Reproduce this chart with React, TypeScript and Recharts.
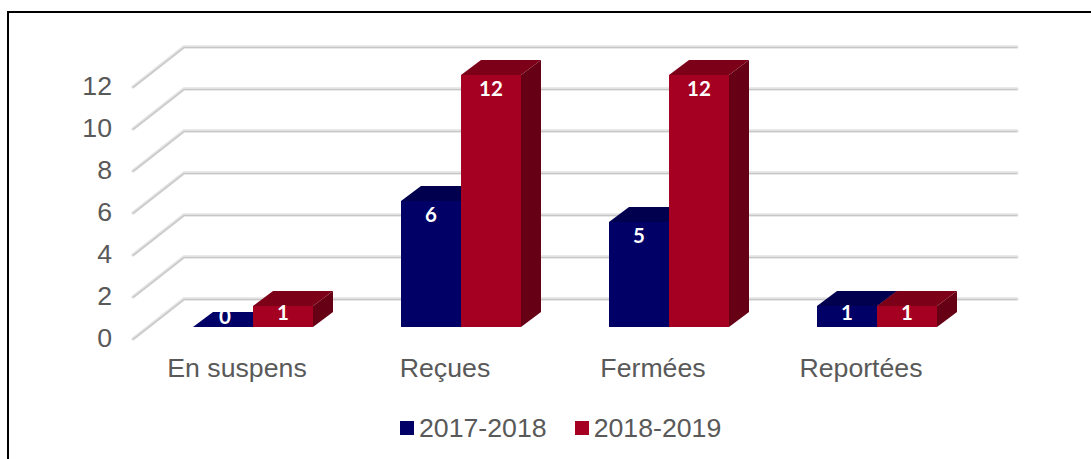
import { Bar, BarChart, CartesianGrid, LabelList, Legend, XAxis, YAxis } from "recharts";

const categories = ["En suspens", "Reçues", "Fermées", "Reportées"];
const values2017 = [0, 6, 5, 1];
const values2018 = [1, 12, 12, 1];
const yTicks = [0, 2, 4, 6, 8, 10, 12];

const chartData = categories.map((name, i) => ({
  name,
  y2017: values2017[i],
  y2018: values2018[i],
}));

const TEXT = "#595959";
const FONT = '"Liberation Sans", Arial, sans-serif';
const FONT_SIZE = 26.7;
// the fake 3D depth of the bars
const DEPTH_X = 20;
const DEPTH_Y = 15;

function bar3d(topFill: string, sideFill: string) {
  return (props: any) => {
    const { x, y, width, height, fill } = props;
    const r = x + width;
    const b = y + height;
    return (
      <g>
        <polygon
          points={`${r},${y} ${r + DEPTH_X},${y - DEPTH_Y} ${r + DEPTH_X},${b - DEPTH_Y} ${r},${b}`}
          fill={sideFill}
        />
        <polygon
          points={`${x},${y} ${x + DEPTH_X},${y - DEPTH_Y} ${r + DEPTH_X},${y - DEPTH_Y} ${r},${y}`}
          fill={height === 0 ? fill : topFill}
        />
        <rect x={x} y={y} width={width} height={height} fill={fill} />
      </g>
    );
  };
}

function wallLine(props: any) {
  const { y1, x1, key } = props;
  const pts = `${x1 - 16},${y1 + 12} ${x1 + 35},${y1 - 28} 1017,${y1 - 28}`;
  return (
    <g key={key}>
      <polyline points={pts} fill="none" stroke="#e2e2e2" strokeWidth={3.4} strokeLinecap="round" />
      <polyline points={pts} fill="none" stroke="#c6c6c6" strokeWidth={1.2} transform="translate(0,0.5)" />
    </g>
  );
}

function YTick({ x, y, payload }: any) {
  return (
    <text x={x - 29} y={y + 20} textAnchor="end" fontSize={FONT_SIZE} fontFamily={FONT} fill={TEXT}>
      {payload.value}
    </text>
  );
}

function XTick({ x, y, payload }: any) {
  return (
    <text x={x - 16} y={y + 42} textAnchor="middle" fontSize={FONT_SIZE} fontFamily={FONT} fill={TEXT}>
      {payload.value}
    </text>
  );
}

function valueLabel(props: any) {
  const { x, y, width, height, value } = props;
  let cy = y + 14;
  if (height === 0) cy = y - 10;
  else if (height < 30) cy = y + 7;
  return (
    <text
      x={x + width / 2 + (height === 0 ? 2 : 0)}
      y={cy}
      dy="0.36em"
      textAnchor="middle"
      fontSize={20.5}
      fontWeight={700}
      fontFamily="Lato, sans-serif"
      fill="#ffffff"
    >
      {value}
    </text>
  );
}

function LegendContent({ payload }: any) {
  return (
    <div style={{ display: "flex", gap: 28, fontFamily: FONT, fontSize: FONT_SIZE, color: TEXT, lineHeight: "30px" }}>
      {(payload ?? []).map((item: any) => (
        <div key={item.value} style={{ display: "flex", alignItems: "center", gap: 5 }}>
          <span style={{ width: 14, height: 14, background: item.color, display: "inline-block" }} />
          {item.value}
        </div>
      ))}
    </div>
  );
}

export default function App() {
  return (
    <div style={{ position: "absolute", left: 0, top: 0, width: 1091, height: 459, background: "#fff", overflow: "hidden" }}>
      <div
        style={{
          position: "absolute",
          left: 7,
          top: 11,
          right: 0,
          bottom: 0,
          borderLeft: "2px solid #000",
          borderTop: "2px solid #000",
        }}
      />
      <BarChart
        width={1091}
        height={459}
        data={chartData}
        barSize={60}
        barGap={0}
        margin={{ top: 75, right: 110, bottom: 72, left: 89 }}
        style={{ position: "absolute", left: 0, top: 0 }}
      >
        <CartesianGrid vertical={false} horizontal={wallLine} syncWithTicks />
        <XAxis dataKey="name" height={60} axisLine={false} tickLine={false} tick={XTick} interval={0} />
        <YAxis width={60} domain={[0, 12]} ticks={yTicks} axisLine={false} tickLine={false} tick={YTick} interval={0} />
        <Legend
          verticalAlign="middle"
          layout="horizontal"
          content={LegendContent}
          wrapperStyle={{ left: 400, top: 413, width: "auto" }}
        />
        <Bar dataKey="y2017" name="2017-2018" fill="#000066" shape={bar3d("#00004f", "#00003d")} isAnimationActive={false}>
          <LabelList dataKey="y2017" content={valueLabel} />
        </Bar>
        <Bar dataKey="y2018" name="2018-2019" fill="#a50021" shape={bar3d("#7d0019", "#660014")} isAnimationActive={false}>
          <LabelList dataKey="y2018" content={valueLabel} />
        </Bar>
      </BarChart>
    </div>
  );
}
